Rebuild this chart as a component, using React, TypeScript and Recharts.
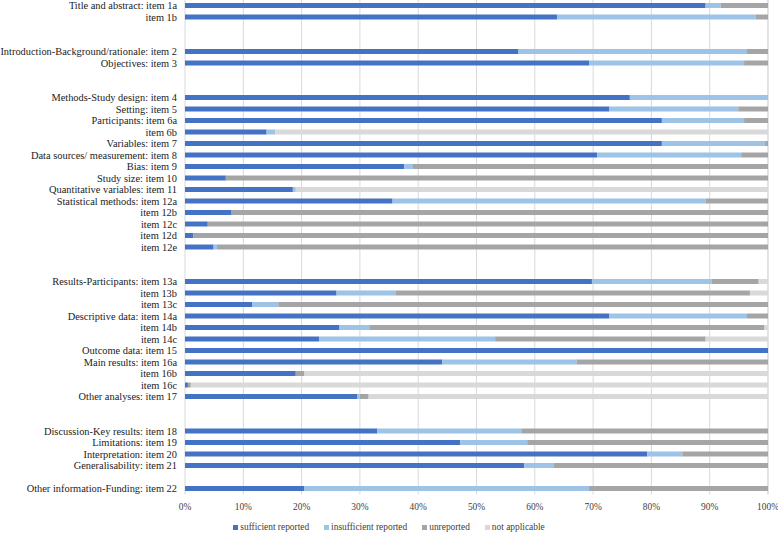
import { Bar, BarChart, CartesianGrid, Legend, XAxis, YAxis } from "recharts";

// Row order top to bottom; "" marks an empty spacer row between sections.
const categories = [
  "Title and abstract: item 1a", "item 1b", "", "",
  "Introduction-Background/rationale: item 2", "Objectives: item 3", "", "",
  "Methods-Study design: item 4", "Setting: item 5", "Participants: item 6a", "item 6b",
  "Variables: item 7", "Data sources/ measurement: item 8", "Bias: item 9", "Study size: item 10",
  "Quantitative variables: item 11", "Statistical methods: item 12a", "item 12b", "item 12c",
  "item 12d", "item 12e", "", "",
  "Results-Participants: item 13a", "item 13b", "item 13c", "Descriptive data: item 14a",
  "item 14b", "item 14c", "Outcome data: item 15", "Main results: item 16a", "item 16b",
  "item 16c", "Other analyses: item 17", "", "",
  "Discussion-Key results: item 18", "Limitations: item 19", "Interpretation: item 20",
  "Generalisability: item 21", "",
  "Other information-Funding: item 22",
];

const sufficient = [
  89.3, 63.8, null, null, 57.2, 69.3, null, null,
  76.3, 72.8, 81.8, 14.0, 81.8, 70.7, 37.6, 7.0, 18.5, 35.6, 8.0, 3.9, 1.4, 4.9, null, null,
  69.8, 26.0, 11.5, 72.8, 26.5, 23.0, 100, 44.1, 19.0, 0.5, 29.6, null, null,
  33.0, 47.2, 79.3, 58.2, null, 20.5,
];
const insufficient = [
  2.6, 34.1, null, null, 39.2, 26.6, null, null,
  23.7, 22.1, 14.1, 1.5, 17.7, 24.7, 1.5, 0, 0.5, 53.7, 0, 0, 0, 0.6, null, null,
  20.5, 10.1, 4.5, 23.6, 5.1, 30.2, 0, 23.1, 0, 0, 0.4, null, null,
  24.7, 11.5, 6.0, 5.0, null, 48.8,
];
const unreported = [
  8.1, 2.1, null, null, 3.6, 4.1, null, null,
  0, 5.1, 4.1, 0, 0.5, 4.6, 60.9, 93.0, 0, 10.7, 92.0, 96.1, 98.6, 94.5, null, null,
  8.1, 60.8, 84.0, 3.6, 67.8, 36.1, 0, 32.8, 1.5, 0.5, 1.5, null, null,
  42.3, 41.3, 14.7, 36.8, null, 30.7,
];
const notApplicable = [
  0, 0, null, null, 0, 0, null, null,
  0, 0, 0, 84.5, 0, 0, 0, 0, 81.0, 0, 0, 0, 0, 0, null, null,
  1.6, 3.1, 0, 0, 0.6, 10.7, 0, 0, 79.5, 99.0, 68.5, null, null,
  0, 0, 0, 0, null, 0,
];

const xTicks = [0, 10, 20, 30, 40, 50, 60, 70, 80, 90, 100];

const SERIES = [
  { key: "sufficient", name: "sufficient reported", color: "#4472C4" },
  { key: "insufficient", name: "insufficient reported", color: "#9DC3E6" },
  { key: "unreported", name: "unreported", color: "#A5A5A5" },
  { key: "notApplicable", name: "not applicable", color: "#D9D9D9" },
];

const FONT = '"Liberation Serif", "Times New Roman", serif';
const INK = "#404040";

const data = categories.map((label, i) => ({
  row: i,
  label,
  sufficient: sufficient[i],
  insufficient: insufficient[i],
  unreported: unreported[i],
  notApplicable: notApplicable[i],
}));

// Plain SVG ticks so the long labels never wrap.
function RowTick(props: unknown) {
  const { x, y, payload } = props as { x: number; y: number; payload: { value: number } };
  return (
    <text x={x} y={y} textAnchor="end" dominantBaseline="central" fill="#222" fontSize={10.4} fontFamily={FONT}>
      {categories[payload.value]}
    </text>
  );
}

function PctTick(props: unknown) {
  const { x, y, payload } = props as { x: number; y: number; payload: { value: number } };
  return (
    <text x={x} y={y + 4} textAnchor="middle" dominantBaseline="central" fill={INK} fontSize={9.4} fontFamily={FONT}>
      {`${payload.value}%`}
    </text>
  );
}

function LegendRow() {
  return (
    <div
      style={{
        display: "flex",
        justifyContent: "center",
        gap: 15,
        fontFamily: FONT,
        fontSize: 9.4,
        color: INK,
        lineHeight: "12px",
      }}
    >
      {SERIES.map((s) => (
        <span key={s.key} style={{ display: "flex", alignItems: "center" }}>
          <span
            style={{ width: 5, height: 5, background: s.color, marginRight: 2, display: "inline-block" }}
          />
          {s.name}
        </span>
      ))}
    </div>
  );
}

export default function App() {
  return (
    <div style={{ position: "absolute", left: 0, top: 0, background: "#fff" }}>
      <BarChart
        width={778}
        height={533}
        data={data}
        layout="vertical"
        margin={{ top: 0, right: 10, bottom: 18.5, left: 0 }}
        barSize={5}
      >
        <CartesianGrid horizontal={false} stroke="#D9D9D9" />
        <XAxis
          type="number"
          domain={[0, 100]}
          ticks={xTicks}
          axisLine={false}
          tickLine={false}
          tickSize={0}
          tickMargin={8}
          height={20}
          tick={<PctTick />}
          interval={0}
        />
        <YAxis
          type="category"
          dataKey="row"
          axisLine={false}
          tickLine={false}
          tickSize={0}
          tickMargin={8}
          width={185}
          interval={0}
          tick={<RowTick />}
        />
        <Legend
          verticalAlign="middle"
          content={<LegendRow />}
          wrapperStyle={{ top: 521, left: 0, width: 778 }}
        />
        {SERIES.map((s) => (
          <Bar
            key={s.key}
            dataKey={s.key}
            name={s.name}
            stackId="a"
            fill={s.color}
            isAnimationActive={false}
          />
        ))}
      </BarChart>
    </div>
  );
}
